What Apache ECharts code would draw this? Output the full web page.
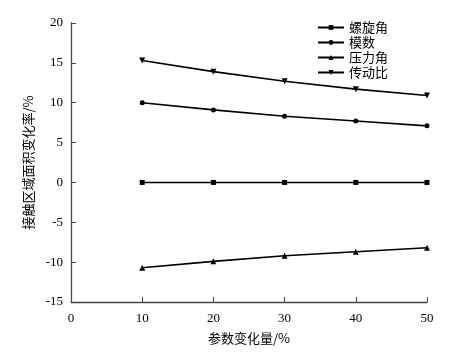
<!DOCTYPE html>
<html>
<head>
<meta charset="utf-8">
<script src="https://cdn.jsdelivr.net/npm/echarts@6/dist/echarts.min.js"></script>
<style>
  html, body { margin: 0; padding: 0; background: #fff; }
  #chart { width: 471px; height: 352px; }
</style>
</head>
<body>
<div id="chart"></div>
<script>
const xValues = [10, 20, 30, 40, 50]
const helixAngle = [0, 0, 0, 0, 0]
const modulus = [10.0, 9.1, 8.3, 7.7, 7.1]
const pressureAngle = [-10.7, -9.9, -9.2, -8.7, -8.2]
const gearRatio = [15.3, 13.9, 12.7, 11.7, 10.9]

const numFont = '"Liberation Serif", "Times New Roman", serif'
const cjkFont = '"Noto Sans CJK SC", sans-serif'

function pairs(vals) {
  return xValues.map((x, i) => [x, vals[i]])
}

function line(name, vals, symbol, size, rotate) {
  return {
    name,
    type: 'line',
    data: pairs(vals),
    symbol,
    symbolSize: size,
    symbolRotate: rotate || 0,
    lineStyle: { color: '#000', width: 1.6 },
    itemStyle: { color: '#000' },
    animation: false
  }
}

const chart = echarts.init(document.getElementById('chart'))
chart.setOption({
  backgroundColor: '#fff',
  grid: { left: 71, right: 44, top: 23, bottom: 50 },
  legend: {
    orient: 'vertical',
    right: 78,
    top: 16,
    itemWidth: 26,
    itemHeight: 6,
    itemGap: 2,
    textStyle: { fontFamily: cjkFont, fontSize: 13, color: '#000' },
    data: ['螺旋角', '模数', '压力角', '传动比']
  },
  xAxis: {
    type: 'value',
    min: 0,
    max: 50,
    interval: 10,
    name: '参数变化量/%',
    nameLocation: 'middle',
    nameGap: 30,
    nameTextStyle: { fontFamily: cjkFont, fontSize: 13, color: '#000' },
    axisLine: { onZero: false, lineStyle: { color: '#444', width: 1.3 } },
    axisTick: { inside: true, length: 5, lineStyle: { color: '#444' } },
    axisLabel: { fontFamily: numFont, fontSize: 13, color: '#000', margin: 10 },
    splitLine: { show: false }
  },
  yAxis: {
    type: 'value',
    min: -15,
    max: 20,
    interval: 5,
    name: '接触区域面积变化率/%',
    nameLocation: 'middle',
    nameGap: 31,
    nameTextStyle: { fontFamily: cjkFont, fontSize: 13, color: '#000' },
    axisLine: { show: true, onZero: false, lineStyle: { color: '#444', width: 1.3 } },
    axisTick: { show: true, inside: true, length: 5, lineStyle: { color: '#444' } },
    axisLabel: { fontFamily: numFont, fontSize: 13, color: '#000', margin: 8 },
    splitLine: { show: false }
  },
  series: [
    line('螺旋角', helixAngle, 'rect', 5),
    line('模数', modulus, 'circle', 5),
    line('压力角', pressureAngle, 'triangle', 6),
    line('传动比', gearRatio, 'triangle', 6, 180)
  ]
})
</script>
</body>
</html>
